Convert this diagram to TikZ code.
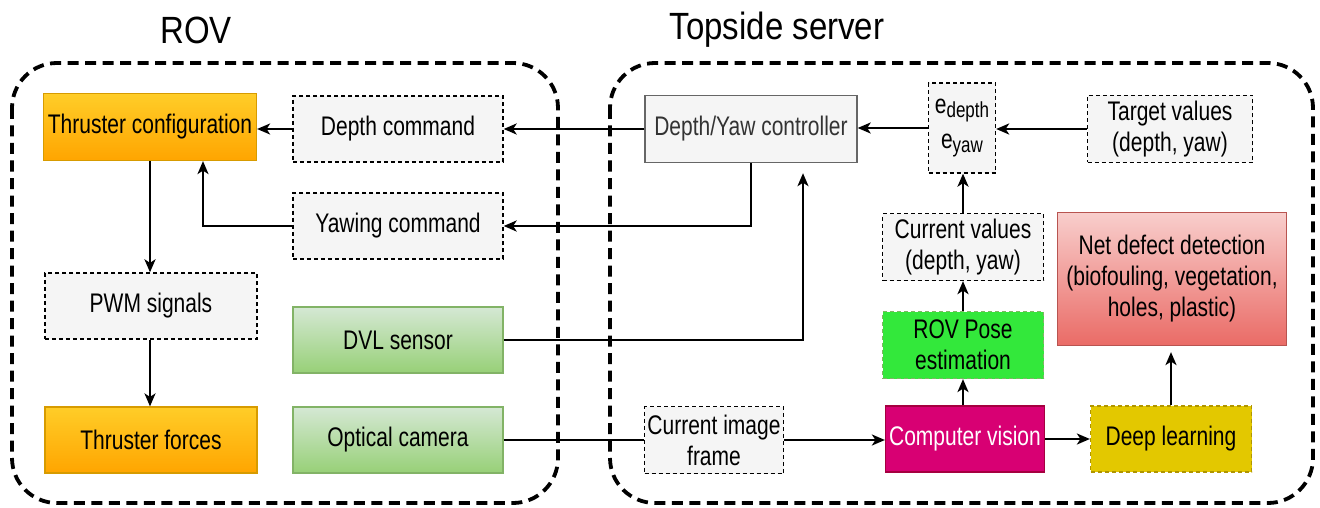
\documentclass[tikz,border=0pt]{standalone}
\usepackage{fontspec}
\setmainfont{Liberation Sans}
\usepackage{graphicx}
\usetikzlibrary{arrows.meta,calc}
\newcommand\vs[1]{\scalebox{1}[1.28]{#1}}
\newcommand\vt[1]{\scalebox{1}[1.15]{#1}}
\newcommand\esub[1]{\raisebox{-0.3ex}{\fontsize{17}{20}\selectfont #1}}
\definecolor{orTop}{HTML}{FFCD28}
\definecolor{orBot}{HTML}{FFA500}
\definecolor{orLine}{HTML}{D79B00}
\definecolor{grTop}{HTML}{D5E8D4}
\definecolor{grBot}{HTML}{97D077}
\definecolor{grLine}{HTML}{82B366}
\definecolor{rdTop}{HTML}{F8CECC}
\definecolor{rdBot}{HTML}{EA6B66}
\definecolor{rdLine}{HTML}{B85450}
\definecolor{lgray}{HTML}{F5F5F5}
\definecolor{mgray}{HTML}{666666}
\definecolor{dgray}{HTML}{333333}
\definecolor{poseG}{HTML}{33E83B}
\definecolor{cvFill}{HTML}{D80073}
\definecolor{cvLine}{HTML}{A50040}
\definecolor{dlFill}{HTML}{E3C800}
\definecolor{dlLine}{HTML}{B09500}
\begin{document}
\begin{tikzpicture}[x=1pt,y=-1pt,
  every node/.style={font=\fontsize{21}{31}\selectfont, align=center, inner sep=0pt},
  dbox/.style={rectangle, draw=black, fill=lgray, line width=1.3pt, dash pattern=on 4pt off 3pt},
  orbox/.style={rectangle, draw=orLine, line width=1.2pt, top color=orTop, bottom color=orBot},
  grbox/.style={rectangle, draw=grLine, line width=1.2pt, top color=grTop, bottom color=grBot},
  group/.style={draw=black, line width=3.8pt, dash pattern=on 11pt off 6.5pt, rounded corners=45pt},
  arr/.style={draw=black, line width=2.2pt, -{Stealth[length=13pt,width=11pt,inset=3.5pt]}},
  ln/.style={draw=black, line width=2.2pt},
  title/.style={font=\fontsize{33}{40}\selectfont}
]
\useasboundingbox (0,0) rectangle (1320,508);
\fill[white] (0,0) rectangle (1320,508);

% groups
\draw[group] (12,63) rectangle (558,503);
\draw[group] (610,63) rectangle (1313,503);
\node[title] (tRov) at (196,30) {\vt{ROV}};
\node[title] (tTop) at (777,30) {\vt{Topside server}};

% ROV nodes
\node[orbox, minimum width=213pt, minimum height=67pt] (thr) at (150,127) {\vs{Thruster configuration}};
\node[dbox, minimum width=210pt, minimum height=66pt] (dcmd) at (398,129) {\vs{Depth command}};
\node[dbox, minimum width=210pt, minimum height=66pt] (ycmd) at (398,226) {\vs{Yawing command}};
\node[dbox, minimum width=212pt, minimum height=66pt] (pwm) at (151,306) {\vs{PWM signals}};
\node[grbox, minimum width=210pt, minimum height=66pt] (dvl) at (398,340) {\vs{DVL sensor}};
\node[orbox, minimum width=212pt, minimum height=66pt] (tforce) at (151,440) {\vs{Thruster forces}};
\node[grbox, minimum width=210pt, minimum height=66pt] (ocam) at (398,440) {\vs{Optical camera}};

% Topside nodes
\node[rectangle, draw=mgray, fill=lgray, line width=1.4pt, text=dgray, minimum width=212pt, minimum height=67pt] (ctrl) at (751,129) {\vs{Depth/Yaw controller}};
\node[dbox, minimum width=67pt, minimum height=90pt] (err) at (962,128) {\vs{e\esub{depth}}\\[4pt]\vs{e\esub{yaw}}};
\node[dbox, minimum width=165pt, minimum height=67pt] (tgt) at (1170,129) {\vs{Target values}\\\vs{(depth, yaw)}};
\node[dbox, minimum width=161pt, minimum height=67pt] (cur) at (963,247) {\vs{Current values}\\\vs{(depth, yaw)}};
\node[rectangle, draw=rdLine, line width=1.2pt, top color=rdTop, bottom color=rdBot, minimum width=229pt, minimum height=133pt] (net) at (1172,279) {\vs{Net defect detection}\\\vs{(biofouling, vegetation,}\\\vs{holes, plastic)}};
\node[rectangle, draw=grLine, fill=poseG, line width=1.2pt, dash pattern=on 4pt off 3pt, minimum width=161pt, minimum height=67pt] (pose) at (963,345) {\vs{ROV Pose}\\\vs{estimation}};
\node[rectangle, draw=cvLine, fill=cvFill, line width=1.2pt, text=white, minimum width=159pt, minimum height=66pt] (cv) at (965,439) {\vs{Computer vision}};
\node[rectangle, draw=dlLine, fill=dlFill, line width=1.2pt, dash pattern=on 4pt off 3pt, minimum width=161pt, minimum height=66pt] (dl) at (1171,439) {\vs{Deep learning}};
\node[dbox, minimum width=139pt, minimum height=67pt] (frame) at (714,440) {\vs{Current image}\\\vs{frame}};

% coordinates for free ends
\coordinate (thrIn) at ([xshift=53pt]thr.south);
\coordinate (ctrlIn) at ([xshift=52pt,yshift=-10pt]ctrl.south);
\coordinate (netIn) at ([yshift=-6pt]net.south -| dl.north);

% connectors
\draw[arr] (dcmd.west) -- (thr.east |- dcmd.west);
\draw[arr] (ctrl.west) -- (dcmd.east |- ctrl.west);
\draw[arr] (err.west) -- (ctrl.east |- err.west);
\draw[arr] (tgt.west) -- (err.east |- tgt.west);
\draw[arr] (ctrl.south) |- (ycmd.east);
\draw[arr] (ycmd.west) -| (thrIn);
\draw[arr] (thr.south) -- (thr.south |- pwm.north);
\draw[arr] (pwm.south -| thr.south) -- (thr.south |- tforce.north);
\draw[arr] (dvl.east) -| (ctrlIn);
\draw[ln] (ocam.east) -- (frame.west |- ocam.east);
\draw[arr] (frame.east) -- (cv.west |- frame.east);
\draw[arr] (cv.east) -- (dl.west |- cv.east);
\draw[arr] (pose.south |- cv.north) -- (pose.south);
\draw[arr] (pose.north) -- (cur.south);
\draw[arr] (cur.north) -- (cur.north |- err.south);
\draw[arr] (dl.north) -- (netIn);
\end{tikzpicture}
\end{document}
